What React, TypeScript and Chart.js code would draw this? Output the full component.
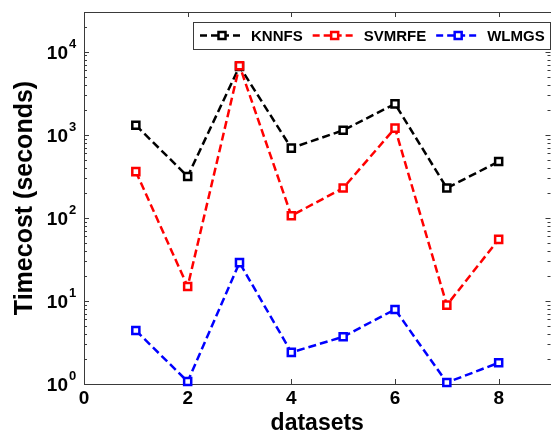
import { useEffect, useRef } from "react";
import { Chart, registerables } from "chart.js";

Chart.register(...registerables);

// ---- data ----
const categories = [1, 2, 3, 4, 5, 6, 7, 8];
const knnfs = [1300, 315, 6650, 690, 1130, 2350, 228, 476];
const svmrfe = [360, 14.9, 6770, 106, 228, 1200, 8.9, 55];
const wlmgs = [4.4, 1.07, 28.9, 2.4, 3.7, 7.9, 1.04, 1.8];
const seriesNames = ["KNNFS", "SVMRFE", "WLMGS"];
const seriesColors = ["#000000", "#ff0000", "#0000ff"];
const xTickValues = [0, 2, 4, 6, 8];
const yDecades = [0, 1, 2, 3, 4];
const xMin = 0;
const xMax = 9;
const yMin = 1;
const yMax = 30000;
const xTitle = "datasets";
const yTitle = "Timecost (seconds)";

const FONT = "'Liberation Sans', Arial, Helvetica, sans-serif";
const FRAME = "#3a3a3a";

const framePlugin = {
  id: "frameTicks",
  beforeDatasetsDraw(chart: any) {
    const { ctx, chartArea, scales } = chart;
    const { left, right, top, bottom } = chartArea;
    const x = scales.x;
    const y = scales.y;
    ctx.save();
    ctx.strokeStyle = FRAME;
    ctx.lineWidth = 1;
    ctx.setLineDash([]);
    ctx.strokeRect(Math.round(left) + 0.5, Math.round(top) + 0.5, Math.round(right - left), Math.round(bottom - top));
    ctx.beginPath();
    for (const d of yDecades) {
      for (let m = 1; m <= 9; m++) {
        const v = m * Math.pow(10, d);
        if (v > yMax) break;
        const py = Math.round(y.getPixelForValue(v)) + 0.5;
        const len = m === 1 ? 5 : 3;
        ctx.moveTo(left, py);
        ctx.lineTo(left + len, py);
        ctx.moveTo(right, py);
        ctx.lineTo(right - len, py);
      }
    }
    for (const t of xTickValues) {
      const px = Math.round(x.getPixelForValue(t)) + 0.5;
      ctx.moveTo(px, top);
      ctx.lineTo(px, top + 5);
      ctx.moveTo(px, bottom);
      ctx.lineTo(px, bottom - 5);
    }
    ctx.stroke();

    // y tick labels: 10 with superscript exponent
    ctx.fillStyle = "#000";
    for (const d of yDecades) {
      const py = y.getPixelForValue(Math.pow(10, d));
      ctx.font = `bold 19px ${FONT}`;
      ctx.textAlign = "right";
      ctx.textBaseline = "alphabetic";
      ctx.fillText("10", left - 16, py + 7);
      ctx.font = `bold 13px ${FONT}`;
      ctx.textAlign = "left";
      ctx.fillText(String(d), left - 15, py - 4);
    }
    ctx.restore();
  },
};

const legendPlugin = {
  id: "matlabLegend",
  afterDraw(chart: any) {
    const { ctx } = chart;
    const boxL = 193;
    const boxT = 22;
    const boxR = 550;
    const boxB = 49;
    const cy = 35.5;
    ctx.save();
    ctx.fillStyle = "#ffffff";
    ctx.fillRect(boxL, boxT, boxR - boxL, boxB - boxT);
    ctx.strokeStyle = FRAME;
    ctx.lineWidth = 1;
    ctx.strokeRect(boxL + 0.5, boxT + 0.5, boxR - boxL, boxB - boxT);
    let cx = 200;
    chart.data.datasets.forEach((ds: any) => {
      const lineLen = 44;
      ctx.strokeStyle = ds.borderColor;
      ctx.lineWidth = 2.5;
      ctx.setLineDash([7, 4]);
      ctx.beginPath();
      ctx.moveTo(cx, cy);
      ctx.lineTo(cx + lineLen, cy);
      ctx.stroke();
      ctx.setLineDash([]);
      const mx = cx + lineLen / 2;
      ctx.fillStyle = "#ffffff";
      ctx.fillRect(mx - 3.5, cy - 3.5, 7, 7);
      ctx.strokeRect(mx - 3.5, cy - 3.5, 7, 7);
      ctx.fillStyle = "#000";
      ctx.font = `bold 15px ${FONT}`;
      ctx.textAlign = "left";
      ctx.textBaseline = "middle";
      const tx = cx + lineLen + 7;
      ctx.fillText(ds.label, tx, cy + 1);
      cx = tx + ctx.measureText(ds.label).width + 10;
    });
    ctx.restore();
  },
};

function makeDataset(label: string, values: number[], color: string, order: number) {
  return {
    label,
    data: categories.map((c, i) => ({ x: c, y: values[i] })),
    borderColor: color,
    backgroundColor: "#ffffff",
    borderWidth: 2.5,
    borderDash: [8, 4],
    pointStyle: "rect" as const,
    pointRadius: 5,
    pointBorderWidth: 2.5,
    pointBackgroundColor: "#ffffff",
    pointBorderColor: color,
    tension: 0,
    clip: false as const,
    order,
  };
}

export default function App() {
  const ref = useRef<HTMLCanvasElement | null>(null);
  useEffect(() => {
    if (!ref.current) return;
    const chart = new Chart(ref.current, {
      type: "line",
      data: {
        datasets: [
          makeDataset(seriesNames[0], knnfs, seriesColors[0], 2),
          makeDataset(seriesNames[1], svmrfe, seriesColors[1], 1),
          makeDataset(seriesNames[2], wlmgs, seriesColors[2], 0),
        ],
      },
      options: {
        responsive: false,
        devicePixelRatio: 1,
        animation: false,
        layout: { padding: { top: 12, right: 3, left: 0, bottom: 0 } },
        plugins: {
          legend: { display: false },
          tooltip: { enabled: false },
        },
        scales: {
          x: {
            type: "linear",
            min: xMin,
            max: xMax,
            grid: { display: false, drawTicks: false },
            border: { display: false },
            ticks: {
              stepSize: 2,
              autoSkip: false,
              maxRotation: 0,
              color: "#000",
              padding: 5,
              font: { family: FONT, size: 19, weight: "bold", lineHeight: 1 },
              callback: (v: any) => (xTickValues.includes(Number(v)) ? String(v) : ""),
            },
            title: {
              display: true,
              text: xTitle,
              color: "#000",
              font: { family: FONT, size: 23, weight: "bold", lineHeight: 1 },
              padding: { top: 0, bottom: 0 },
            },
            afterFit: (s: any) => {
              s.height = 51;
            },
          },
          y: {
            type: "logarithmic",
            min: yMin,
            max: yMax,
            grid: { display: false, drawTicks: false },
            border: { display: false },
            ticks: { display: false },
            title: {
              display: true,
              text: yTitle,
              color: "#000",
              font: { family: FONT, size: 25, weight: "bold", lineHeight: 1 },
              padding: { top: 12.5, bottom: 0 },
            },
            afterFit: (s: any) => {
              s.width = 84;
            },
          },
        },
      },
      plugins: [framePlugin, legendPlugin],
    });
    return () => chart.destroy();
  }, []);
  return (
    <div style={{ position: "absolute", left: 0, top: 0, width: 551, height: 435, overflow: "hidden", background: "#fff" }}>
      <canvas ref={ref} width={558} height={435} style={{ display: "block", width: 558, height: 435 }} />
    </div>
  );
}
